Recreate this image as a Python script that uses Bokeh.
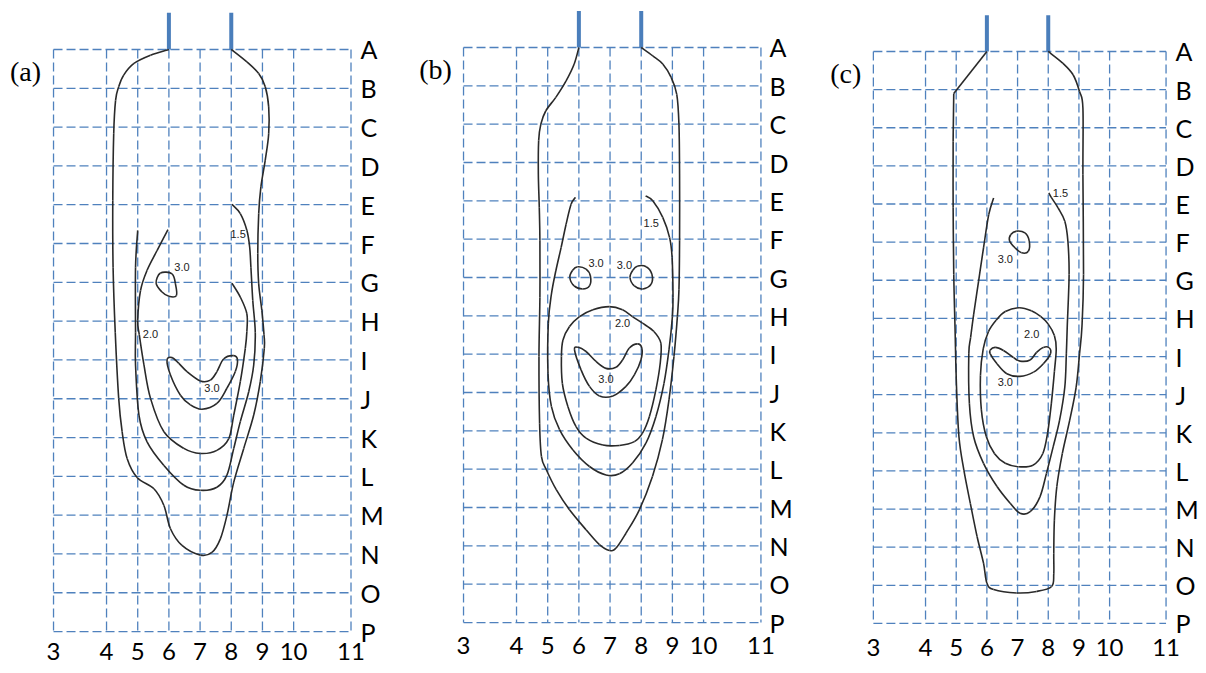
from bokeh.plotting import figure
from bokeh.layouts import row
from bokeh.models import Range1d, FixedTicker
from bokeh.core.properties import value
from bokeh.embed import file_html
from bokeh.resources import INLINE

# ---------------- axes (irregular column scale, rows A..P) ----------------
col_labels = ["3", "4", "5", "6", "7", "8", "9", "10", "11"]
col_pos = [2.3, 4, 5, 6, 7, 8, 9, 10, 11.84]
row_labels = list("ABCDEFGHIJKLMNOP")
row_pos = list(range(16))
electrode_cols = [6, 8]
panel_tags = ["(a)", "(b)", "(c)"]

# ---------------- panel (a) contours ----------------
a_outer_x = [6.0, 5.41, 4.88, 4.55, 4.39, 4.29, 4.23, 4.20, 4.21, 4.28, 4.39, 4.50, 4.66, 4.98, 5.52, 5.84, 6.05, 6.42, 7.01, 7.38,
             7.65, 7.86, 8.08, 8.40, 8.72, 8.93, 9.06, 9.05, 8.98, 8.88, 8.85, 8.88, 8.95, 9.09, 9.20, 9.20, 9.09, 8.88, 8.50, 8.0]
a_outer_y = [0.0, 0.15, 0.36, 0.66, 0.96, 1.31, 2.17, 3.89, 5.61, 7.30, 8.99, 9.85, 10.54, 11.03, 11.32, 11.75, 12.35, 12.78, 13.03, 12.96,
             12.61, 12.01, 11.15, 10.28, 9.42, 8.56, 7.70, 7.35, 6.72, 6.04, 5.26, 4.23, 3.54, 2.85, 2.17, 1.48, 0.96, 0.62, 0.32, 0.0]
a_15_x = [5.0, 4.93, 4.93, 4.93, 5.04, 5.30, 5.84, 6.48, 7.01, 7.54, 7.86, 8.08, 8.29, 8.56, 8.72, 8.77, 8.69, 8.63, 8.59, 8.50, 8.29, 8.02]
a_15_y = [4.66, 5.61, 7.30, 8.13, 9.42, 10.11, 10.72, 11.23, 11.36, 11.28, 10.97, 10.28, 9.59, 8.82, 8.13, 7.30, 6.47, 5.61, 5.09, 4.66, 4.23, 3.99]
a_20_x = [5.97, 5.62, 5.30, 5.09, 5.00, 5.05, 5.20, 5.41, 5.84, 6.48, 7.01, 7.54, 7.92, 8.08, 8.29, 8.45, 8.50, 8.50, 8.29, 8.02]
a_20_y = [4.64, 5.18, 5.69, 6.21, 6.98, 7.35, 8.13, 8.99, 9.85, 10.28, 10.41, 10.33, 10.03, 9.42, 8.56, 7.70, 7.27, 6.81, 6.38, 6.02]
a_30_loop_x = [5.73, 6.10, 6.21, 6.24, 6.00, 5.78, 5.59]
a_30_loop_y = [5.76, 5.78, 6.04, 6.34, 6.36, 6.25, 6.02]
a_30_cres_x = [5.94, 6.10, 6.32, 6.58, 7.01, 7.33, 7.54, 7.76, 8.08, 8.20, 8.13, 7.86, 7.54, 7.06, 6.69, 6.37, 6.05]
a_30_cres_y = [8.00, 7.94, 8.09, 8.30, 8.54, 8.52, 8.30, 7.97, 7.89, 8.00, 8.30, 8.73, 9.12, 9.27, 9.16, 8.91, 8.39]
a_label_x = [8.22, 6.42, 5.41, 7.38]
a_label_y = [4.75, 5.61, 7.33, 8.73]
a_label_text = ["1.5", "3.0", "2.0", "3.0"]

# ---------------- panel (b) contours ----------------
b_outer_x = [6.0, 5.85, 5.59, 5.26, 4.94, 4.78, 4.71, 4.70, 4.73, 4.75, 4.75, 4.72, 4.74, 4.80, 4.96, 5.28, 5.70, 6.23, 6.66, 6.98,
             7.19, 7.51, 7.94, 8.36, 8.68, 8.89, 9.05, 9.16, 9.21, 9.23, 9.23, 9.21, 9.14, 8.96, 8.69, 8.37, 8.0]
b_outer_y = [0.0, 0.43, 0.87, 1.30, 1.65, 2.00, 2.43, 3.30, 4.17, 5.04, 6.52, 8.06, 9.80, 10.67, 11.02, 11.54, 12.06, 12.58, 12.97, 13.12,
             13.06, 12.67, 12.06, 11.19, 10.23, 9.19, 8.06, 7.02, 6.32, 5.04, 3.30, 2.00, 1.22, 0.78, 0.43, 0.22, 0.0]
b_15_x = [5.89, 5.75, 5.59, 5.43, 5.26, 5.12, 5.02, 5.01, 5.12, 5.38, 5.81, 6.34, 6.87, 7.30, 7.72, 8.15, 8.47, 8.73, 8.89, 9.00,
          9.02, 8.99, 8.91, 8.69, 8.37, 8.14]
b_15_y = [3.91, 4.09, 4.61, 5.22, 5.83, 6.43, 7.19, 8.50, 9.37, 9.97, 10.50, 10.93, 11.15, 11.12, 10.84, 10.32, 9.63, 8.76, 7.89, 7.02,
          6.52, 5.48, 4.96, 4.43, 4.00, 3.87]
b_20_x = [6.98, 6.45, 6.02, 5.70, 5.49, 5.44, 5.47, 5.65, 5.91, 6.23, 6.77, 7.30, 7.78, 8.04, 8.26, 8.47, 8.61, 8.63, 8.41, 8.04, 7.72, 7.40]
b_20_y = [6.76, 6.84, 7.02, 7.28, 7.63, 8.06, 8.76, 9.37, 9.89, 10.19, 10.37, 10.38, 10.28, 10.06, 9.63, 8.93, 8.23, 7.71, 7.41, 7.19, 7.02, 6.84]
b_30_left_x = [5.96, 6.23, 6.37, 6.34, 6.12, 5.85, 5.71, 5.80]
b_30_left_y = [5.72, 5.78, 5.96, 6.22, 6.30, 6.22, 6.00, 5.81]
b_30_right_x = [7.89, 8.16, 8.34, 8.32, 8.05, 7.78, 7.64, 7.73]
b_30_right_y = [5.70, 5.72, 5.91, 6.17, 6.30, 6.22, 6.00, 5.81]
b_30_cres_x = [5.86, 5.97, 6.23, 6.55, 6.87, 7.19, 7.40, 7.62, 7.88, 8.02, 7.99, 7.78, 7.51, 7.09, 6.66, 6.34, 6.07]
b_30_cres_y = [7.89, 7.82, 7.93, 8.19, 8.37, 8.34, 8.15, 7.84, 7.73, 7.84, 8.15, 8.54, 8.84, 9.09, 9.09, 8.84, 8.41]
b_label_x = [8.32, 6.55, 7.46, 7.40, 6.87]
b_label_y = [4.59, 5.61, 5.67, 7.19, 8.65]
b_label_text = ["1.5", "3.0", "3.0", "2.0", "3.0"]

# ---------------- panel (c) contours ----------------
c_outer_top_x = [6.0, 4.92]
c_outer_top_y = [0.0, 1.10]
c_outer_x = [4.92, 4.90, 4.90, 4.92, 4.96, 5.01, 5.09, 5.25, 5.46, 5.68, 5.89, 6.00, 6.22, 6.97, 7.62, 8.11, 8.18, 8.18, 8.20, 8.28,
             8.46, 8.70, 8.91, 9.02, 9.10, 9.15, 9.13, 9.13, 9.02, 8.81, 8.48, 8.0]
c_outer_y = [1.10, 2.36, 4.10, 5.85, 7.20, 8.80, 10.11, 10.98, 11.85, 12.72, 13.42, 13.94, 14.11, 14.20, 14.16, 14.03, 13.70, 13.16, 12.29, 11.41,
             10.54, 9.67, 8.80, 7.93, 7.20, 5.85, 3.23, 1.48, 1.05, 0.61, 0.31, 0.0]
c_15_x = [6.22, 6.06, 5.89, 5.73, 5.57, 5.47, 5.41, 5.43, 5.57, 5.89, 6.33, 6.76, 7.08, 7.41, 7.73, 7.94, 8.16, 8.37, 8.54, 8.59,
          8.62, 8.68, 8.64, 8.54, 8.32, 8.11, 8.02]
c_15_y = [3.84, 4.28, 5.15, 6.02, 6.89, 7.50, 7.93, 9.24, 10.11, 10.80, 11.41, 11.85, 12.11, 12.07, 11.68, 11.07, 10.37, 9.67, 8.80, 7.93,
          7.20, 5.85, 4.97, 4.45, 4.10, 3.84, 3.71]
c_20_x = [7.05, 6.60, 6.30, 6.05, 5.88, 5.79, 5.82, 5.98, 6.25, 6.60, 7.03, 7.50, 7.82, 7.98, 8.10, 8.20, 8.26, 8.20, 8.00, 7.75, 7.45]
c_20_y = [6.72, 6.82, 7.05, 7.35, 7.80, 8.50, 9.40, 10.10, 10.55, 10.80, 10.89, 10.85, 10.55, 10.00, 9.24, 8.40, 7.80, 7.45, 7.15, 6.95, 6.80]
c_30_loop_x = [6.97, 7.24, 7.38, 7.35, 7.13, 6.92, 6.74, 6.78]
c_30_loop_y = [4.71, 4.76, 4.97, 5.24, 5.28, 5.15, 4.97, 4.80]
c_30_cres_x = [6.11, 6.27, 6.54, 6.87, 7.08, 7.41, 7.62, 7.84, 8.03, 8.07, 7.84, 7.52, 7.08, 6.65, 6.33, 6.11]
c_30_cres_y = [7.83, 7.76, 7.84, 8.03, 8.12, 8.09, 7.89, 7.76, 7.77, 7.93, 8.19, 8.41, 8.52, 8.45, 8.19, 7.93]
c_label_x = [8.40, 6.60, 7.46, 6.60]
c_label_y = [3.71, 5.45, 7.41, 8.67]
c_label_text = ["1.5", "3.0", "2.0", "3.0"]

GRID_BLUE = "#4F81BD"
CURVE = "#2a2a2a"


def smooth(xs, ys, closed=False):
    """Catmull-Rom segments expressed as cubic Bezier control points."""
    n = len(xs)
    pts = list(zip(xs, ys))
    segs = n if closed else n - 1
    out = dict(x0=[], y0=[], x1=[], y1=[], cx0=[], cy0=[], cx1=[], cy1=[])
    for i in range(segs):
        p1 = pts[i]
        p2 = pts[(i + 1) % n]
        if closed:
            p0 = pts[(i - 1) % n]
            p3 = pts[(i + 2) % n]
        else:
            p0 = pts[i - 1] if i > 0 else p1
            p3 = pts[i + 2] if i + 2 < n else p2
        out["x0"].append(p1[0]); out["y0"].append(p1[1])
        out["x1"].append(p2[0]); out["y1"].append(p2[1])
        out["cx0"].append(p1[0] + (p2[0] - p0[0]) / 6.0)
        out["cy0"].append(p1[1] + (p2[1] - p0[1]) / 6.0)
        out["cx1"].append(p2[0] - (p3[0] - p1[0]) / 6.0)
        out["cy1"].append(p2[1] - (p3[1] - p1[1]) / 6.0)
    return out


def make_panel(tag, open_curves, closed_curves, straight, labels, x_rng, y_rng, fw, fh, bl, br, standoff, bb):
    p = figure(frame_width=fw, frame_height=fh,
               x_range=Range1d(*x_rng), y_range=Range1d(*y_rng),
               output_backend="svg", toolbar_location=None,
               y_axis_location="right",
               min_border_left=bl, min_border_right=br,
               min_border_top=10, min_border_bottom=bb)
    p.grid.visible = False
    p.outline_line_color = None
    p.background_fill_color = "white"
    p.border_fill_color = "white"

    for ax, ticks, labs in ((p.xaxis, col_pos, col_labels), (p.yaxis, row_pos, row_labels)):
        ax.ticker = FixedTicker(ticks=ticks)
        ax.major_label_overrides = {t: l for t, l in zip(ticks, labs)}
        ax.axis_line_color = None
        ax.major_tick_line_color = None
        ax.minor_tick_line_color = None
        ax.major_tick_out = 0
        ax.major_tick_in = 0
        ax.major_label_text_font = "Lato"
        ax.major_label_text_color = "black"
    p.xaxis.major_label_text_font_size = "24px"
    p.yaxis.major_label_text_font_size = "25px"
    p.xaxis.major_label_standoff = standoff
    p.yaxis.major_label_standoff = 7

    # dashed grid
    p.segment(x0=col_pos, x1=col_pos, y0=[row_pos[0]] * len(col_pos), y1=[row_pos[-1]] * len(col_pos),
              line_color=GRID_BLUE, line_width=1.3, line_dash="9 4")
    p.segment(x0=[col_pos[0]] * len(row_pos), x1=[col_pos[-1]] * len(row_pos), y0=row_pos, y1=row_pos,
              line_color=GRID_BLUE, line_width=1.3, line_dash="9 4")

    # electrodes
    p.segment(x0=electrode_cols, x1=electrode_cols, y0=[-0.95] * 2, y1=[row_pos[0]] * 2,
              line_color="#4A7EBB", line_width=4)

    for xs, ys in open_curves:
        p.bezier(**smooth(xs, ys, closed=False), line_color=CURVE, line_width=1.6)
    for xs, ys in closed_curves:
        p.bezier(**smooth(xs, ys, closed=True), line_color=CURVE, line_width=1.6)
    for xs, ys in straight:
        p.line(xs, ys, line_color=CURVE, line_width=1.6)

    lx, ly, lt = labels
    p.text(x=lx, y=ly, text=lt, text_font=value("Liberation Sans"), text_font_size="11px",
           text_align="center", text_baseline="middle", text_color="#222222")

    p.text(x=[1.4], y=[0.57], text=[tag], text_font=value("Liberation Serif"), text_font_size="28px",
           text_align="center", text_baseline="middle", text_color="black")
    return p


pa = make_panel(panel_tags[0],
                [(a_outer_x, a_outer_y), (a_15_x, a_15_y), (a_20_x, a_20_y)],
                [(a_30_loop_x, a_30_loop_y), (a_30_cres_x, a_30_cres_y)],
                [],
                (a_label_x, a_label_y, a_label_text),
                (0.856, 11.92), (15.23, -1.005), 345, 630, 8, 55, 2, 33)

pb = make_panel(panel_tags[1],
                [(b_outer_x, b_outer_y), (b_15_x, b_15_y)],
                [(b_20_x, b_20_y), (b_30_left_x, b_30_left_y), (b_30_right_x, b_30_right_y), (b_30_cres_x, b_30_cres_y)],
                [],
                (b_label_x, b_label_y, b_label_text),
                (0.535, 11.89), (15.26, -0.965), 354, 622, 0, 46, 4, 38)

pc = make_panel(panel_tags[2],
                [(c_outer_x, c_outer_y), (c_15_x, c_15_y)],
                [(c_20_x, c_20_y), (c_30_loop_x, c_30_loop_y), (c_30_cres_x, c_30_cres_y)],
                [(c_outer_top_x, c_outer_top_y)],
                (c_label_x, c_label_y, c_label_text),
                (0.185, 11.92), (15.29, -1.075), 360, 624, 0, 36, 4, 38)

layout = row(pa, pb, pc)
open("out.html", "w").write(file_html(layout, INLINE))
